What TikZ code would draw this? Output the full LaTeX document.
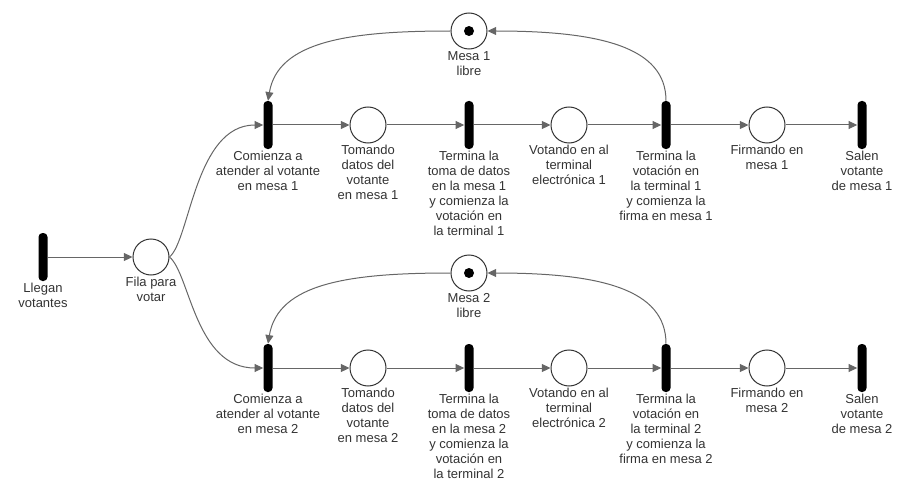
\documentclass[tikz,border=0pt]{standalone}
\usepackage{fontspec}
\setmainfont{Liberation Sans}
\usetikzlibrary{arrows.meta}
\definecolor{texto}{HTML}{333333}
\definecolor{gris}{HTML}{666666}
\begin{document}
\begin{tikzpicture}[x=0.75pt, y=-0.75pt,
    plaza/.style={draw=texto, circle, minimum size=27pt, inner sep=0pt, line width=0.75pt},
    ficha/.style={fill=black, circle, minimum size=7.5pt, inner sep=0pt},
    trans/.style={fill=black, rounded corners=3pt, minimum width=6.75pt, minimum height=36pt, inner sep=0pt},
    etiq/.style={font=\fontsize{9.75}{11.25}\selectfont, text=texto, align=center, inner sep=1pt},
    arco/.style={draw=gris, line width=0.75pt, -{Triangle[length=6.5pt, width=6pt]}}]
    \useasboundingbox (0,0) rectangle (911,492);
    % entrada
    \node[trans, label={[etiq]below:{Llegan\\votantes}}] (llegan) at (43,257) {};
    \node[plaza, label={[etiq]below:{Fila para\\votar}}] (fila) at (151,257) {};
    \draw[arco] (llegan) -- (fila);
    % una fila por mesa
    \foreach \m/\y/\ym in {1/125/31, 2/368/273} {
        \node[plaza, label={[etiq]below:{Mesa \m\\libre}}] (libre\m) at (469,\ym) {};
        \node[ficha] at (libre\m) {};
        \node[trans, label={[etiq]below:{Comienza a\\atender al votante\\en mesa \m}}] (comienza\m) at (268,\y) {};
        \node[plaza, label={[etiq]below:{Tomando\\datos del\\votante\\en mesa \m}}] (tomando\m) at (368,\y) {};
        \node[trans, label={[etiq]below:{Termina la\\toma de datos\\en la mesa \m\\y comienza la\\votación en\\la terminal \m}}] (terminatoma\m) at (469,\y) {};
        \node[plaza, label={[etiq]below:{Votando en al\\terminal\\electrónica \m}}] (votando\m) at (569,\y) {};
        \node[trans, label={[etiq]below:{Termina la\\votación en\\la terminal \m\\y comienza la\\firma en mesa \m}}] (terminavoto\m) at (666,\y) {};
        \node[plaza, label={[etiq]below:{Firmando en\\mesa \m}}] (firmando\m) at (767,\y) {};
        \node[trans, label={[etiq]below:{Salen\\votante\\de mesa \m}}] (salen\m) at (862,\y) {};
        \draw[arco] (comienza\m) -- (tomando\m);
        \draw[arco] (tomando\m) -- (terminatoma\m);
        \draw[arco] (terminatoma\m) -- (votando\m);
        \draw[arco] (votando\m) -- (terminavoto\m);
        \draw[arco] (terminavoto\m) -- (firmando\m);
        \draw[arco] (firmando\m) -- (salen\m);
        \draw[arco] (libre\m.west) .. controls (350,\ym) and (278,\ym+10) .. (comienza\m.north);
        \draw[arco] (terminavoto\m.north) .. controls (666,\ym+16) and (600,\ym) .. (libre\m.east);
    }
    \draw[arco] (fila.east) .. controls (190,240) and (195,125) .. (comienza1.west);
    \draw[arco] (fila.east) .. controls (190,274) and (195,368) .. (comienza2.west);
\end{tikzpicture}
\end{document}
